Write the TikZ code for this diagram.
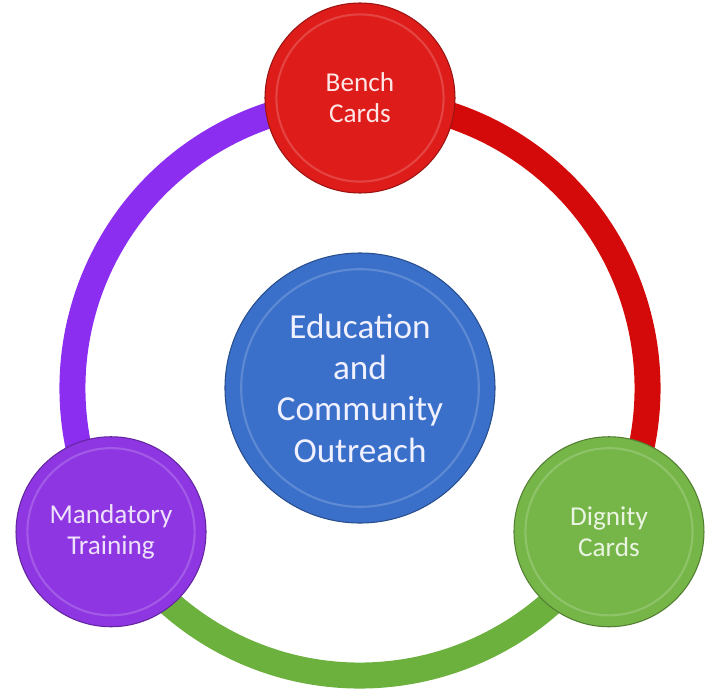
\documentclass[tikz,border=0pt]{standalone}
\usepackage{fontspec}
\setmainfont{Carlito}
\usepackage{tikz}
\usetikzlibrary{backgrounds}

\definecolor{benchred}{RGB}{222,28,26}
\definecolor{ringred}{RGB}{212,10,10}
\definecolor{dignitygreen}{RGB}{118,182,72}
\definecolor{ringgreen}{RGB}{108,176,62}
\definecolor{trainpurple}{RGB}{142,54,226}
\definecolor{ringpurple}{RGB}{140,46,240}
\definecolor{outreachblue}{RGB}{58,112,202}

\begin{document}
\begin{tikzpicture}[
  disc/.style 2 args={circle, fill=#1, draw=#1!70!black, line width=0.6pt, minimum size=#2, align=center, inner sep=0pt,
    path picture={\draw[#1!82!white, line width=1.2pt] (path picture bounding box.center) circle[radius=0.44*#2];}},
  ringseg/.style={line width=0.52cm, #1}
]
\useasboundingbox (-7.2,-6.0) rectangle (7.06,7.76);

% Nodes
\node[disc={outreachblue}{5.4cm}, text=blue!6!white, font=\fontsize{20}{23.5}\selectfont] (outreach) at (0,0) {Education\\and\\Community\\Outreach};
\node[disc={benchred}{3.8cm}, text=red!10!white, font=\fontsize{15.5}{17.5}\selectfont] (bench) at (90:5.8) {Bench\\Cards};
\node[disc={dignitygreen}{3.8cm}, text=dignitygreen!15!white, font=\fontsize{15.5}{17.5}\selectfont] (dignity) at (-30:5.75) {Dignity\\Cards};
\node[disc={trainpurple}{3.8cm}, text=trainpurple!15!white, font=\fontsize{15.5}{17.5}\selectfont] (training) at (210:5.75) {Mandatory\\Training};

% Ring segments
\begin{scope}[on background layer]
\draw[ringseg=ringred] (dignity.center) arc[start angle=-30, end angle=90, radius=5.75];
\draw[ringseg=ringgreen] (dignity.center) arc[start angle=-30, end angle=-150, radius=5.75];
\draw[ringseg=ringpurple] (training.center) arc[start angle=210, end angle=90, radius=5.75];
\end{scope}

\end{tikzpicture}
\end{document}
